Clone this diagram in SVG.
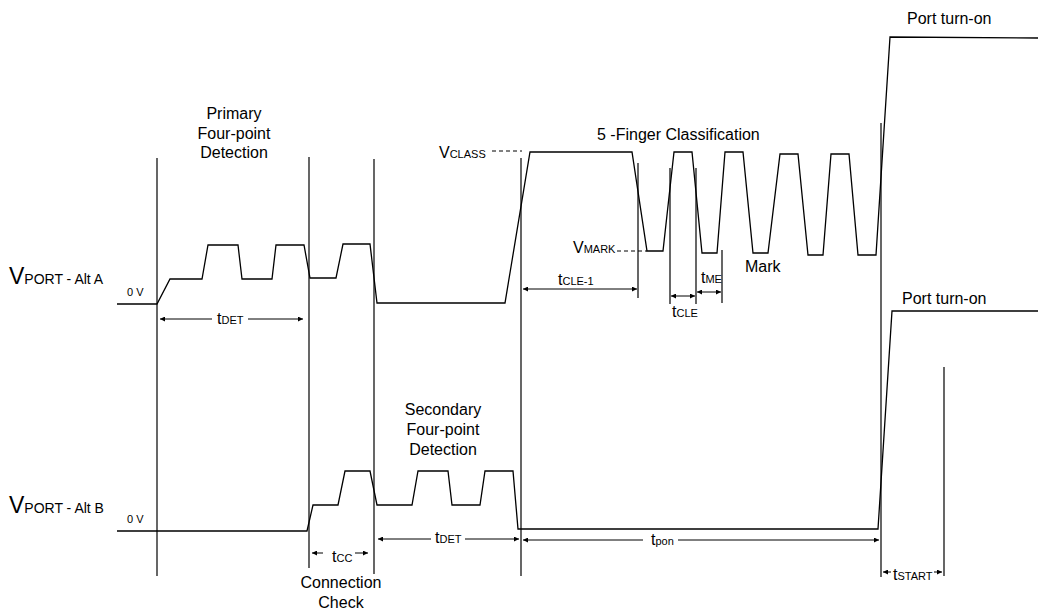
<svg xmlns="http://www.w3.org/2000/svg" width="1038" height="610" viewBox="0 0 1038 610">
<style>
  .w { fill: none; stroke: #000; stroke-width: 1.3; stroke-linejoin: miter; }
  .v { fill: none; stroke: #000; stroke-width: 1.2; }
  .d { fill: none; stroke: #000; stroke-width: 1; stroke-dasharray: 4 3; }
  .a { fill: none; stroke: #000; stroke-width: 1; }
  text { font-family: "Liberation Sans", Arial, sans-serif; fill: #000; }
  .lbl { font-size: 16px; }
  .t { font-size: 16px; }
  .s { font-size: 11px; }
  .zv { font-size: 11px; }
  .vp { font-size: 23px; }
  .vps { font-size: 14px; }
</style>
<defs>
  <marker id="ah" viewBox="0 0 10 10" refX="10" refY="5" markerWidth="7" markerHeight="5" markerUnits="userSpaceOnUse" orient="auto-start-reverse">
    <path d="M0,0 L10,5 L0,10 z" fill="#000"/>
  </marker>
</defs>

<g id="boundaries">
  <line class="v" x1="157" y1="158" x2="157" y2="576"/>
  <line class="v" x1="309" y1="157" x2="309" y2="568"/>
  <line class="v" x1="374" y1="159" x2="374" y2="574"/>
  <line class="v" x1="521" y1="158" x2="521" y2="576"/>
  <line class="v" x1="638" y1="163" x2="638" y2="298"/>
  <line class="v" x1="670" y1="168" x2="670" y2="304"/>
  <line class="v" x1="696" y1="168" x2="696" y2="304"/>
  <line class="v" x1="722" y1="250" x2="722" y2="303"/>
  <line class="v" x1="881" y1="123" x2="881" y2="577"/>
  <line class="v" x1="944" y1="367" x2="944" y2="576"/>
</g>

<g id="waveform-alt-a">
  <polyline class="w" points="117,304 157,304 170,279 202,279 208,245 238,245 242,279 272,279 276,245 304,245 310,278 336,278 343,244 370,244 377,303 505,303 530,152 632,152 647,251 663,251 674,152 692,152 702,253 717,253 725,152 743,152 753,253 768,253 780,154 798,154 808,255 823,255 831,154 849,154 858,255 876,255 890,37 1038,38"/>
</g>

<g id="waveform-alt-b">
  <polyline class="w" points="117,531 307,531 313,505 338,505 345,471 370,471 377,505 412,505 418,471 448,471 452,505 480,505 485,471 513,471 518,529 878,529 892,311 1038,311"/>
</g>

<g id="levels">
  <line class="d" x1="492" y1="151" x2="522" y2="151"/>
  <line class="d" x1="617" y1="251" x2="647" y2="251"/>
  <text x="439" y="158"><tspan class="t">V</tspan><tspan class="s">CLASS</tspan></text>
  <text x="573" y="253"><tspan class="t">V</tspan><tspan class="s">MARK</tspan></text>
</g>

<g id="connectors">
  <line class="a" x1="160" y1="319" x2="212" y2="319" marker-start="url(#ah)"/>
  <line class="a" x1="248" y1="319" x2="303" y2="319" marker-end="url(#ah)"/>
  <line class="a" x1="523" y1="289" x2="637" y2="289" marker-start="url(#ah)" marker-end="url(#ah)"/>
  <line class="a" x1="671" y1="296" x2="695" y2="296" marker-start="url(#ah)" marker-end="url(#ah)"/>
  <line class="a" x1="697" y1="292" x2="721" y2="292" marker-start="url(#ah)" marker-end="url(#ah)"/>
  <line class="a" x1="312" y1="553" x2="323" y2="553" marker-start="url(#ah)"/>
  <line class="a" x1="355" y1="553" x2="368" y2="553" marker-end="url(#ah)"/>
  <line class="a" x1="378" y1="539" x2="431" y2="539" marker-start="url(#ah)"/>
  <line class="a" x1="465" y1="539" x2="519" y2="539" marker-end="url(#ah)"/>
  <line class="a" x1="523" y1="540" x2="643" y2="540" marker-start="url(#ah)"/>
  <line class="a" x1="678" y1="540" x2="879" y2="540" marker-end="url(#ah)"/>
  <line class="a" x1="883" y1="572" x2="891" y2="572" marker-start="url(#ah)"/>
  <line class="a" x1="934" y1="572" x2="942" y2="572" marker-end="url(#ah)"/>
</g>

<g id="primary-detection">
  <text class="lbl" x="234" y="119" text-anchor="middle">Primary</text>
  <text class="lbl" x="234" y="139" text-anchor="middle">Four-point</text>
  <text class="lbl" x="234" y="158" text-anchor="middle">Detection</text>
</g>
<g id="secondary-detection">
  <text class="lbl" x="443" y="415" text-anchor="middle">Secondary</text>
  <text class="lbl" x="443" y="435" text-anchor="middle">Four-point</text>
  <text class="lbl" x="443" y="455" text-anchor="middle">Detection</text>
</g>
<g id="connection-check">
  <text class="lbl" x="341" y="588" text-anchor="middle">Connection</text>
  <text class="lbl" x="341" y="608" text-anchor="middle">Check</text>
</g>
<g id="classification">
  <text class="lbl" x="597" y="140">5 -Finger Classification</text>
  <text class="lbl" x="745" y="272">Mark</text>
</g>
<g id="port-turn-on">
  <text class="lbl" x="907" y="24">Port turn-on</text>
  <text class="lbl" x="902" y="304">Port turn-on</text>
</g>
<g id="axis-labels">
  <text x="9" y="284"><tspan class="vp">V</tspan><tspan class="vps">PORT - Alt A</tspan></text>
  <text x="9" y="513"><tspan class="vp">V</tspan><tspan class="vps">PORT - Alt B</tspan></text>
  <text class="zv" x="127" y="296">0 V</text>
  <text class="zv" x="127" y="523">0 V</text>
</g>
<g id="timing-labels">
  <text x="217" y="324"><tspan class="t">t</tspan><tspan class="s">DET</tspan></text>
  <text x="558" y="285"><tspan class="t">t</tspan><tspan class="s">CLE-1</tspan></text>
  <text x="672" y="317"><tspan class="t">t</tspan><tspan class="s">CLE</tspan></text>
  <text x="701" y="283"><tspan class="t">t</tspan><tspan class="s">ME</tspan></text>
  <text x="332" y="562"><tspan class="t">t</tspan><tspan class="s">CC</tspan></text>
  <text x="435" y="543"><tspan class="t">t</tspan><tspan class="s">DET</tspan></text>
  <text x="651" y="545"><tspan class="t">t</tspan><tspan class="s">pon</tspan></text>
  <text x="893" y="580"><tspan class="t">t</tspan><tspan class="s">START</tspan></text>
</g>
</svg>
